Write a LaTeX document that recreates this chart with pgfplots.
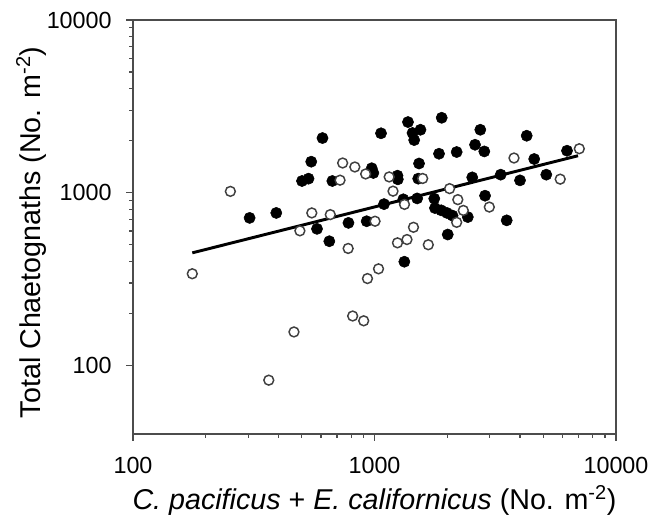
\documentclass[border=0pt]{standalone}
\usepackage{pgfplots}
\pgfplotsset{compat=1.18}
\usepackage{fontspec}
\setmainfont{Liberation Sans}

% filled circles
\pgfplotstableread{
x y
304 714
392 763
547 1511
501 1168
533 1205
578 617
609 2071
650 523
780 668
928 683
669 1168
974 1385
989 1300
1064 2207
1095 858
1329 398
1376 2563
1898 2714
1437 2216
1550 2313
1460 2016
1850 1680
2189 1719
1529 1475
1245 1254
1249 1194
1517 1205
1316 915
1502 926
1768 923
1780 814
1889 790
1996 763
2104 736
2434 722
2010 572
2742 2313
4268 2136
2608 1894
2849 1733
4584 1566
6268 1749
2539 1226
3331 1271
4004 1178
5144 1271
2869 960
3527 691
}\filled

% open circles
\pgfplotstableread{
x y
176 339
253 1017
491 601
550 763
656 746
778 475
720 1181
738 1485
829 1408
919 1283
1005 683
1039 362
935 318
464 156
365 82
812 193
902 181
1150 1233
1193 1020
1583 1208
1331 855
1450 630
1245 512
1363 535
1670 499
2046 1055
2213 911
2332 789
2189 673
3781 1587
7047 1796
5875 1197
2988 825
}\opened

\begin{document}
\begin{tikzpicture}
\path[use as bounding box] (-99.75pt,-69.75pt) rectangle (390pt,325.5pt);
\begin{axis}[
    scale only axis,
    width=362.25pt, height=310.5pt,
    xmode=log, ymode=log,
    xmin=100, xmax=10000,
    ymin=40, ymax=10000,
    xtick={100,1000,10000}, xticklabels={100,1000,10000},
    ytick={100,1000,10000}, yticklabels={100,1000,10000},
    tick pos=left, tick align=outside,
    major tick length=5pt, minor tick length=3pt,
    every tick/.style={black!70, line width=0.9pt},
    axis line style={black!70, line width=1pt},
    ticklabel style={font=\fontsize{17.5}{20}\selectfont},
    xticklabel style={yshift=-9pt},
    yticklabel style={xshift=-7.5pt},
    every axis x label/.style={at={(axis description cs:0.5,0)}, anchor=center, yshift=-50pt,
        font=\fontsize{21.5}{24}\selectfont},
    every axis y label/.style={at={(axis description cs:0,0.5)}, xshift=-76.5pt, yshift=-4pt,
        rotate=90, anchor=center, font=\fontsize{21.5}{24}\selectfont},
    xlabel={\textit{C. pacificus} + \textit{E. californicus} (No. m\textsuperscript{-2})},
    ylabel={Total Chaetognaths (No. m\textsuperscript{-2})},
    clip=false,
]
\addplot[black, line width=2.2pt] coordinates {(176,448) (6962,1636)};
\addplot[only marks, mark=*, mark size=4.2pt, mark options={fill=black, draw=black}] table {\filled};
\addplot[only marks, mark=*, mark size=3.7pt, mark options={fill=white, draw=black!75, line width=1.1pt}] table {\opened};
\end{axis}
\end{tikzpicture}
\end{document}
